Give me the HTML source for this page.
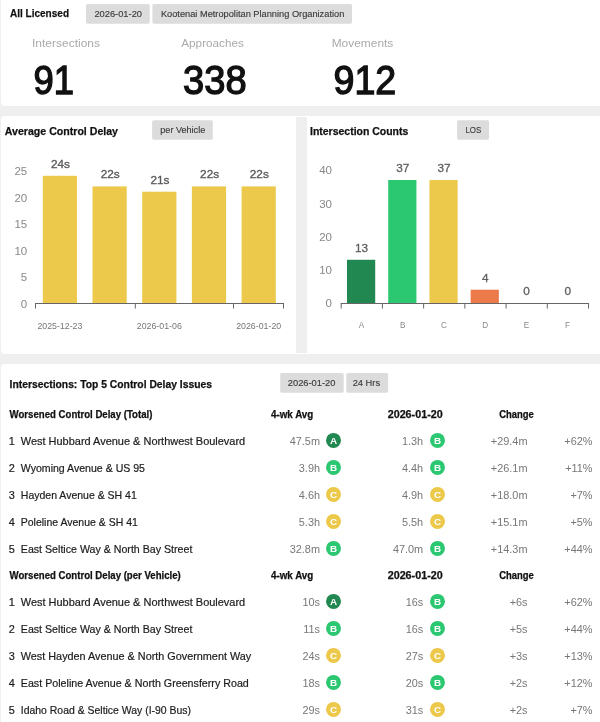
<!DOCTYPE html>
<html><head><meta charset="utf-8"><title>All Licensed</title>
<style>
html,body{margin:0;padding:0;width:600px;height:722px;overflow:hidden;background:#efefef;font-family:"Liberation Sans", sans-serif;}
.card{position:absolute;background:#fff;}
.gutter{position:absolute;background:#efefef;}
svg{position:absolute;left:0;top:0;will-change:transform;}
svg text{font-family:"Liberation Sans", sans-serif;}
</style></head><body>
<div class="card" style="left:1px;top:-10px;width:620px;height:116px;border-radius:4px"></div><div class="card" style="left:1px;top:116px;width:620px;height:238px;border-radius:4px"></div><div class="card" style="left:1px;top:364px;width:620px;height:380px;border-radius:4px"></div><div class="gutter" style="left:296px;top:117px;width:11px;height:236px"></div>
<svg width="600" height="722" viewBox="0 0 600 722">
<text x="10" y="16.7" font-size="11.8" font-weight="700" fill="#111" textLength="59" lengthAdjust="spacingAndGlyphs" stroke="#111" stroke-width="0.25">All Licensed</text>
<rect x="86" y="4" width="63.7" height="19.7" fill="#dcdcdc" rx="1.6"/>
<text x="94.4" y="16.7" font-size="9.3" fill="#3c3c3c" textLength="47.6" lengthAdjust="spacingAndGlyphs" stroke="#3c3c3c" stroke-width="0.15">2026-01-20</text>
<rect x="152.4" y="4" width="199.6" height="19.7" fill="#dcdcdc" rx="1.6"/>
<text x="160.9" y="16.7" font-size="9.3" fill="#3c3c3c" textLength="183.4" lengthAdjust="spacingAndGlyphs" stroke="#3c3c3c" stroke-width="0.15">Kootenai Metropolitan Planning Organization</text>
<text x="32" y="47" font-size="11.8" fill="#aaaaaa" textLength="68" lengthAdjust="spacingAndGlyphs">Intersections</text>
<text x="33.5" y="93.6" font-size="40.0" fill="#111" textLength="40.5" lengthAdjust="spacingAndGlyphs" stroke="#111" stroke-width="1.35">91</text>
<text x="181.3" y="47" font-size="11.8" fill="#aaaaaa" textLength="62.5" lengthAdjust="spacingAndGlyphs">Approaches</text>
<text x="183.10000000000002" y="93.6" font-size="40.0" fill="#111" textLength="63.6" lengthAdjust="spacingAndGlyphs" stroke="#111" stroke-width="1.35">338</text>
<text x="331.7" y="47" font-size="11.8" fill="#aaaaaa" textLength="61.6" lengthAdjust="spacingAndGlyphs">Movements</text>
<text x="333.5" y="93.6" font-size="40.0" fill="#111" textLength="62.7" lengthAdjust="spacingAndGlyphs" stroke="#111" stroke-width="1.35">912</text>
<text x="4.8" y="134.8" font-size="10.8" font-weight="700" fill="#111" textLength="113.2" lengthAdjust="spacingAndGlyphs" stroke="#111" stroke-width="0.25">Average Control Delay</text>
<rect x="152.1" y="120.2" width="60.7" height="19.5" fill="#dcdcdc" rx="1.6"/>
<text x="160.3" y="133.1" font-size="9.3" fill="#3c3c3c" textLength="44.9" lengthAdjust="spacingAndGlyphs" stroke="#3c3c3c" stroke-width="0.15">per Vehicle</text>
<text x="27.2" y="307.8" font-size="11.5" fill="#888" text-anchor="end">0</text>
<text x="27.2" y="281.3" font-size="11.5" fill="#888" text-anchor="end">5</text>
<text x="27.2" y="254.8" font-size="11.5" fill="#888" text-anchor="end">10</text>
<text x="27.2" y="228.3" font-size="11.5" fill="#888" text-anchor="end">15</text>
<text x="27.2" y="201.8" font-size="11.5" fill="#888" text-anchor="end">20</text>
<text x="27.2" y="175.3" font-size="11.5" fill="#888" text-anchor="end">25</text>
<rect x="42.8" y="175.8" width="34.2" height="127.69999999999999" fill="#ecc84b"/>
<text x="60.5" y="167.8" font-size="11.8" fill="#5a5a5a" text-anchor="middle" stroke="#5a5a5a" stroke-width="0.35">24s</text>
<rect x="92.5" y="186.4" width="34.2" height="117.1" fill="#ecc84b"/>
<text x="110.2" y="178.4" font-size="11.8" fill="#5a5a5a" text-anchor="middle" stroke="#5a5a5a" stroke-width="0.35">22s</text>
<rect x="142.2" y="191.7" width="34.2" height="111.8" fill="#ecc84b"/>
<text x="159.89999999999998" y="183.7" font-size="11.8" fill="#5a5a5a" text-anchor="middle" stroke="#5a5a5a" stroke-width="0.35">21s</text>
<rect x="191.90000000000003" y="186.4" width="34.2" height="117.1" fill="#ecc84b"/>
<text x="209.60000000000002" y="178.4" font-size="11.8" fill="#5a5a5a" text-anchor="middle" stroke="#5a5a5a" stroke-width="0.35">22s</text>
<rect x="241.60000000000002" y="186.4" width="34.2" height="117.1" fill="#ecc84b"/>
<text x="259.3" y="178.4" font-size="11.8" fill="#5a5a5a" text-anchor="middle" stroke="#5a5a5a" stroke-width="0.35">22s</text>
<line x1="35" y1="303.5" x2="284" y2="303.5" stroke="#666" stroke-width="1"/>
<line x1="35.5" y1="303.5" x2="35.5" y2="308.5" stroke="#666" stroke-width="1"/>
<line x1="135.3" y1="303.5" x2="135.3" y2="308.5" stroke="#666" stroke-width="1"/>
<line x1="233.5" y1="303.5" x2="233.5" y2="308.5" stroke="#666" stroke-width="1"/>
<line x1="283.5" y1="303.5" x2="283.5" y2="308.5" stroke="#666" stroke-width="1"/>
<text x="59.9" y="328.6" font-size="8.8" fill="#777" text-anchor="middle">2025-12-23</text>
<text x="159.29999999999998" y="328.6" font-size="8.8" fill="#777" text-anchor="middle">2026-01-06</text>
<text x="258.70000000000005" y="328.6" font-size="8.8" fill="#777" text-anchor="middle">2026-01-20</text>
<text x="310" y="134.8" font-size="10.8" font-weight="700" fill="#111" textLength="98.3" lengthAdjust="spacingAndGlyphs" stroke="#111" stroke-width="0.25">Intersection Counts</text>
<rect x="457.1" y="120.2" width="31.9" height="19.5" fill="#dcdcdc" rx="1.6"/>
<text x="465.4" y="133" font-size="9.6" fill="#3c3c3c" textLength="15.9" lengthAdjust="spacingAndGlyphs" stroke="#3c3c3c" stroke-width="0.15">LOS</text>
<text x="332" y="307.4" font-size="11.5" fill="#888" text-anchor="end">0</text>
<text x="332" y="274.15" font-size="11.5" fill="#888" text-anchor="end">10</text>
<text x="332" y="240.9" font-size="11.5" fill="#888" text-anchor="end">20</text>
<text x="332" y="207.65" font-size="11.5" fill="#888" text-anchor="end">30</text>
<text x="332" y="174.4" font-size="11.5" fill="#888" text-anchor="end">40</text>
<rect x="347.0" y="259.775" width="28.2" height="43.725" fill="#218851"/>
<text x="361.6" y="251.77499999999998" font-size="11.8" fill="#5e5e5e" text-anchor="middle" stroke="#5e5e5e" stroke-width="0.3">13</text>
<text x="361.5" y="327.8" font-size="8.2" fill="#8a8a8a" text-anchor="middle">A</text>
<rect x="388.22" y="179.975" width="28.2" height="123.525" fill="#2cc771"/>
<text x="402.82000000000005" y="171.975" font-size="11.8" fill="#5e5e5e" text-anchor="middle" stroke="#5e5e5e" stroke-width="0.3">37</text>
<text x="402.72" y="327.8" font-size="8.2" fill="#8a8a8a" text-anchor="middle">B</text>
<rect x="429.44" y="179.975" width="28.2" height="123.525" fill="#ecc84b"/>
<text x="444.04" y="171.975" font-size="11.8" fill="#5e5e5e" text-anchor="middle" stroke="#5e5e5e" stroke-width="0.3">37</text>
<text x="443.94" y="327.8" font-size="8.2" fill="#8a8a8a" text-anchor="middle">C</text>
<rect x="470.65999999999997" y="289.7" width="28.2" height="13.8" fill="#ed7a4b"/>
<text x="485.26" y="281.7" font-size="11.8" fill="#5e5e5e" text-anchor="middle" stroke="#5e5e5e" stroke-width="0.3">4</text>
<text x="485.15999999999997" y="327.8" font-size="8.2" fill="#8a8a8a" text-anchor="middle">D</text>
<text x="526.48" y="295.0" font-size="11.8" fill="#5e5e5e" text-anchor="middle" stroke="#5e5e5e" stroke-width="0.3">0</text>
<text x="526.38" y="327.8" font-size="8.2" fill="#8a8a8a" text-anchor="middle">E</text>
<text x="567.7" y="295.0" font-size="11.8" fill="#5e5e5e" text-anchor="middle" stroke="#5e5e5e" stroke-width="0.3">0</text>
<text x="567.6" y="327.8" font-size="8.2" fill="#8a8a8a" text-anchor="middle">F</text>
<line x1="340.7" y1="303.5" x2="589" y2="303.5" stroke="#666" stroke-width="1"/>
<line x1="341.2" y1="303.5" x2="341.2" y2="308.5" stroke="#666" stroke-width="1"/>
<line x1="382.41999999999996" y1="303.5" x2="382.41999999999996" y2="308.5" stroke="#666" stroke-width="1"/>
<line x1="423.64" y1="303.5" x2="423.64" y2="308.5" stroke="#666" stroke-width="1"/>
<line x1="464.86" y1="303.5" x2="464.86" y2="308.5" stroke="#666" stroke-width="1"/>
<line x1="506.08" y1="303.5" x2="506.08" y2="308.5" stroke="#666" stroke-width="1"/>
<line x1="547.3" y1="303.5" x2="547.3" y2="308.5" stroke="#666" stroke-width="1"/>
<line x1="588.52" y1="303.5" x2="588.52" y2="308.5" stroke="#666" stroke-width="1"/>
<text x="9.6" y="387.8" font-size="10.9" font-weight="700" fill="#111" textLength="202.4" lengthAdjust="spacingAndGlyphs" stroke="#111" stroke-width="0.25">Intersections: Top 5 Control Delay Issues</text>
<rect x="280.2" y="373" width="63.5" height="19.7" fill="#dcdcdc" rx="1.6"/>
<text x="287.8" y="385.8" font-size="9.3" fill="#3c3c3c" textLength="47.6" lengthAdjust="spacingAndGlyphs" stroke="#3c3c3c" stroke-width="0.15">2026-01-20</text>
<rect x="346.3" y="373" width="41.8" height="19.7" fill="#dcdcdc" rx="1.6"/>
<text x="352.7" y="385.8" font-size="9.3" fill="#3c3c3c" stroke="#3c3c3c" stroke-width="0.15">24 Hrs</text>
<text x="9.6" y="418" font-size="10" font-weight="700" fill="#111" textLength="142.8" lengthAdjust="spacingAndGlyphs" stroke="#111" stroke-width="0.25">Worsened Control Delay (Total)</text>
<text x="271" y="418" font-size="10" font-weight="700" fill="#111" textLength="42.3" lengthAdjust="spacingAndGlyphs" stroke="#111" stroke-width="0.25">4-wk Avg</text>
<text x="387.7" y="418" font-size="10" font-weight="700" fill="#111" textLength="55" lengthAdjust="spacingAndGlyphs" stroke="#111" stroke-width="0.25">2026-01-20</text>
<text x="499.2" y="418" font-size="10" font-weight="700" fill="#111" textLength="34.7" lengthAdjust="spacingAndGlyphs" stroke="#111" stroke-width="0.25">Change</text>
<text x="8.7" y="445" font-size="10.9" fill="#1c1c1c" stroke="#1c1c1c" stroke-width="0.2">1</text>
<text x="20.8" y="445" font-size="10.9" fill="#1c1c1c" textLength="224.4" lengthAdjust="spacingAndGlyphs" stroke="#1c1c1c" stroke-width="0.2">West Hubbard Avenue &amp; Northwest Boulevard</text>
<text x="320" y="445" font-size="10.9" fill="#777" text-anchor="end">47.5m</text>
<circle cx="333.5" cy="440.4" r="7.5" fill="#218851"/>
<text x="333.6" y="444.1" font-size="9.9" font-weight="700" fill="#fff" text-anchor="middle">A</text>
<text x="423.2" y="445" font-size="10.9" fill="#777" text-anchor="end">1.3h</text>
<circle cx="437.5" cy="440.4" r="7.5" fill="#2cc771"/>
<text x="437.6" y="444.1" font-size="9.9" font-weight="700" fill="#fff" text-anchor="middle">B</text>
<text x="527.5" y="445" font-size="10.9" fill="#777" text-anchor="end">+29.4m</text>
<text x="592.5" y="445" font-size="10.9" fill="#777" text-anchor="end">+62%</text>
<text x="8.7" y="472" font-size="10.9" fill="#1c1c1c" stroke="#1c1c1c" stroke-width="0.2">2</text>
<text x="20.8" y="472" font-size="10.9" fill="#1c1c1c" textLength="124.2" lengthAdjust="spacingAndGlyphs" stroke="#1c1c1c" stroke-width="0.2">Wyoming Avenue &amp; US 95</text>
<text x="320" y="472" font-size="10.9" fill="#777" text-anchor="end">3.9h</text>
<circle cx="333.5" cy="467.4" r="7.5" fill="#2cc771"/>
<text x="333.6" y="471.1" font-size="9.9" font-weight="700" fill="#fff" text-anchor="middle">B</text>
<text x="423.2" y="472" font-size="10.9" fill="#777" text-anchor="end">4.4h</text>
<circle cx="437.5" cy="467.4" r="7.5" fill="#2cc771"/>
<text x="437.6" y="471.1" font-size="9.9" font-weight="700" fill="#fff" text-anchor="middle">B</text>
<text x="527.5" y="472" font-size="10.9" fill="#777" text-anchor="end">+26.1m</text>
<text x="592.5" y="472" font-size="10.9" fill="#777" text-anchor="end">+11%</text>
<text x="8.7" y="499" font-size="10.9" fill="#1c1c1c" stroke="#1c1c1c" stroke-width="0.2">3</text>
<text x="20.8" y="499" font-size="10.9" fill="#1c1c1c" textLength="116.0" lengthAdjust="spacingAndGlyphs" stroke="#1c1c1c" stroke-width="0.2">Hayden Avenue &amp; SH 41</text>
<text x="320" y="499" font-size="10.9" fill="#777" text-anchor="end">4.6h</text>
<circle cx="333.5" cy="494.4" r="7.5" fill="#ecc84b"/>
<text x="333.6" y="498.1" font-size="9.9" font-weight="700" fill="#fff" text-anchor="middle">C</text>
<text x="423.2" y="499" font-size="10.9" fill="#777" text-anchor="end">4.9h</text>
<circle cx="437.5" cy="494.4" r="7.5" fill="#ecc84b"/>
<text x="437.6" y="498.1" font-size="9.9" font-weight="700" fill="#fff" text-anchor="middle">C</text>
<text x="527.5" y="499" font-size="10.9" fill="#777" text-anchor="end">+18.0m</text>
<text x="592.5" y="499" font-size="10.9" fill="#777" text-anchor="end">+7%</text>
<text x="8.7" y="526" font-size="10.9" fill="#1c1c1c" stroke="#1c1c1c" stroke-width="0.2">4</text>
<text x="20.8" y="526" font-size="10.9" fill="#1c1c1c" textLength="117.0" lengthAdjust="spacingAndGlyphs" stroke="#1c1c1c" stroke-width="0.2">Poleline Avenue &amp; SH 41</text>
<text x="320" y="526" font-size="10.9" fill="#777" text-anchor="end">5.3h</text>
<circle cx="333.5" cy="521.4" r="7.5" fill="#ecc84b"/>
<text x="333.6" y="525.1" font-size="9.9" font-weight="700" fill="#fff" text-anchor="middle">C</text>
<text x="423.2" y="526" font-size="10.9" fill="#777" text-anchor="end">5.5h</text>
<circle cx="437.5" cy="521.4" r="7.5" fill="#ecc84b"/>
<text x="437.6" y="525.1" font-size="9.9" font-weight="700" fill="#fff" text-anchor="middle">C</text>
<text x="527.5" y="526" font-size="10.9" fill="#777" text-anchor="end">+15.1m</text>
<text x="592.5" y="526" font-size="10.9" fill="#777" text-anchor="end">+5%</text>
<text x="8.7" y="553" font-size="10.9" fill="#1c1c1c" stroke="#1c1c1c" stroke-width="0.2">5</text>
<text x="20.8" y="553" font-size="10.9" fill="#1c1c1c" textLength="171.6" lengthAdjust="spacingAndGlyphs" stroke="#1c1c1c" stroke-width="0.2">East Seltice Way &amp; North Bay Street</text>
<text x="320" y="553" font-size="10.9" fill="#777" text-anchor="end">32.8m</text>
<circle cx="333.5" cy="548.4" r="7.5" fill="#2cc771"/>
<text x="333.6" y="552.1" font-size="9.9" font-weight="700" fill="#fff" text-anchor="middle">B</text>
<text x="423.2" y="553" font-size="10.9" fill="#777" text-anchor="end">47.0m</text>
<circle cx="437.5" cy="548.4" r="7.5" fill="#2cc771"/>
<text x="437.6" y="552.1" font-size="9.9" font-weight="700" fill="#fff" text-anchor="middle">B</text>
<text x="527.5" y="553" font-size="10.9" fill="#777" text-anchor="end">+14.3m</text>
<text x="592.5" y="553" font-size="10.9" fill="#777" text-anchor="end">+44%</text>
<text x="9.6" y="579" font-size="10" font-weight="700" fill="#111" textLength="171.2" lengthAdjust="spacingAndGlyphs" stroke="#111" stroke-width="0.25">Worsened Control Delay (per Vehicle)</text>
<text x="271" y="579" font-size="10" font-weight="700" fill="#111" textLength="42.3" lengthAdjust="spacingAndGlyphs" stroke="#111" stroke-width="0.25">4-wk Avg</text>
<text x="387.7" y="579" font-size="10" font-weight="700" fill="#111" textLength="55" lengthAdjust="spacingAndGlyphs" stroke="#111" stroke-width="0.25">2026-01-20</text>
<text x="499.2" y="579" font-size="10" font-weight="700" fill="#111" textLength="34.7" lengthAdjust="spacingAndGlyphs" stroke="#111" stroke-width="0.25">Change</text>
<text x="8.7" y="606" font-size="10.9" fill="#1c1c1c" stroke="#1c1c1c" stroke-width="0.2">1</text>
<text x="20.8" y="606" font-size="10.9" fill="#1c1c1c" textLength="224.4" lengthAdjust="spacingAndGlyphs" stroke="#1c1c1c" stroke-width="0.2">West Hubbard Avenue &amp; Northwest Boulevard</text>
<text x="320" y="606" font-size="10.9" fill="#777" text-anchor="end">10s</text>
<circle cx="333.5" cy="601.4" r="7.5" fill="#218851"/>
<text x="333.6" y="605.1" font-size="9.9" font-weight="700" fill="#fff" text-anchor="middle">A</text>
<text x="423.2" y="606" font-size="10.9" fill="#777" text-anchor="end">16s</text>
<circle cx="437.5" cy="601.4" r="7.5" fill="#2cc771"/>
<text x="437.6" y="605.1" font-size="9.9" font-weight="700" fill="#fff" text-anchor="middle">B</text>
<text x="527.5" y="606" font-size="10.9" fill="#777" text-anchor="end">+6s</text>
<text x="592.5" y="606" font-size="10.9" fill="#777" text-anchor="end">+62%</text>
<text x="8.7" y="633" font-size="10.9" fill="#1c1c1c" stroke="#1c1c1c" stroke-width="0.2">2</text>
<text x="20.8" y="633" font-size="10.9" fill="#1c1c1c" textLength="171.6" lengthAdjust="spacingAndGlyphs" stroke="#1c1c1c" stroke-width="0.2">East Seltice Way &amp; North Bay Street</text>
<text x="320" y="633" font-size="10.9" fill="#777" text-anchor="end">11s</text>
<circle cx="333.5" cy="628.4" r="7.5" fill="#2cc771"/>
<text x="333.6" y="632.1" font-size="9.9" font-weight="700" fill="#fff" text-anchor="middle">B</text>
<text x="423.2" y="633" font-size="10.9" fill="#777" text-anchor="end">16s</text>
<circle cx="437.5" cy="628.4" r="7.5" fill="#2cc771"/>
<text x="437.6" y="632.1" font-size="9.9" font-weight="700" fill="#fff" text-anchor="middle">B</text>
<text x="527.5" y="633" font-size="10.9" fill="#777" text-anchor="end">+5s</text>
<text x="592.5" y="633" font-size="10.9" fill="#777" text-anchor="end">+44%</text>
<text x="8.7" y="660" font-size="10.9" fill="#1c1c1c" stroke="#1c1c1c" stroke-width="0.2">3</text>
<text x="20.8" y="660" font-size="10.9" fill="#1c1c1c" textLength="230.4" lengthAdjust="spacingAndGlyphs" stroke="#1c1c1c" stroke-width="0.2">West Hayden Avenue &amp; North Government Way</text>
<text x="320" y="660" font-size="10.9" fill="#777" text-anchor="end">24s</text>
<circle cx="333.5" cy="655.4" r="7.5" fill="#ecc84b"/>
<text x="333.6" y="659.1" font-size="9.9" font-weight="700" fill="#fff" text-anchor="middle">C</text>
<text x="423.2" y="660" font-size="10.9" fill="#777" text-anchor="end">27s</text>
<circle cx="437.5" cy="655.4" r="7.5" fill="#ecc84b"/>
<text x="437.6" y="659.1" font-size="9.9" font-weight="700" fill="#fff" text-anchor="middle">C</text>
<text x="527.5" y="660" font-size="10.9" fill="#777" text-anchor="end">+3s</text>
<text x="592.5" y="660" font-size="10.9" fill="#777" text-anchor="end">+13%</text>
<text x="8.7" y="687" font-size="10.9" fill="#1c1c1c" stroke="#1c1c1c" stroke-width="0.2">4</text>
<text x="20.8" y="687" font-size="10.9" fill="#1c1c1c" textLength="228.0" lengthAdjust="spacingAndGlyphs" stroke="#1c1c1c" stroke-width="0.2">East Poleline Avenue &amp; North Greensferry Road</text>
<text x="320" y="687" font-size="10.9" fill="#777" text-anchor="end">18s</text>
<circle cx="333.5" cy="682.4" r="7.5" fill="#2cc771"/>
<text x="333.6" y="686.1" font-size="9.9" font-weight="700" fill="#fff" text-anchor="middle">B</text>
<text x="423.2" y="687" font-size="10.9" fill="#777" text-anchor="end">20s</text>
<circle cx="437.5" cy="682.4" r="7.5" fill="#2cc771"/>
<text x="437.6" y="686.1" font-size="9.9" font-weight="700" fill="#fff" text-anchor="middle">B</text>
<text x="527.5" y="687" font-size="10.9" fill="#777" text-anchor="end">+2s</text>
<text x="592.5" y="687" font-size="10.9" fill="#777" text-anchor="end">+12%</text>
<text x="8.7" y="714" font-size="10.9" fill="#1c1c1c" stroke="#1c1c1c" stroke-width="0.2">5</text>
<text x="20.8" y="714" font-size="10.9" fill="#1c1c1c" textLength="170.2" lengthAdjust="spacingAndGlyphs" stroke="#1c1c1c" stroke-width="0.2">Idaho Road &amp; Seltice Way (I-90 Bus)</text>
<text x="320" y="714" font-size="10.9" fill="#777" text-anchor="end">29s</text>
<circle cx="333.5" cy="709.4" r="7.5" fill="#ecc84b"/>
<text x="333.6" y="713.1" font-size="9.9" font-weight="700" fill="#fff" text-anchor="middle">C</text>
<text x="423.2" y="714" font-size="10.9" fill="#777" text-anchor="end">31s</text>
<circle cx="437.5" cy="709.4" r="7.5" fill="#ecc84b"/>
<text x="437.6" y="713.1" font-size="9.9" font-weight="700" fill="#fff" text-anchor="middle">C</text>
<text x="527.5" y="714" font-size="10.9" fill="#777" text-anchor="end">+2s</text>
<text x="592.5" y="714" font-size="10.9" fill="#777" text-anchor="end">+7%</text>
</svg>
</body></html>
